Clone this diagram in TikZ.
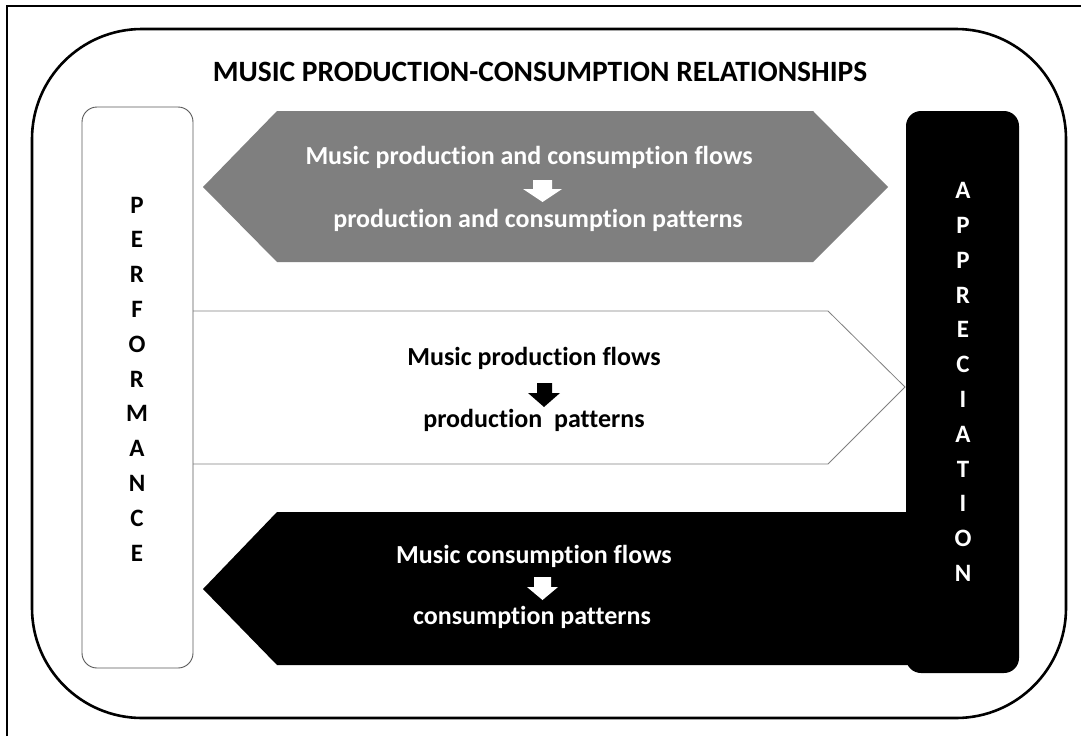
\documentclass[tikz,border=0pt]{standalone}
\usepackage{fontspec}
\setmainfont{Carlito}[Ligatures=NoCommon]
\definecolor{hexgray}{HTML}{7F7F7F}
\definecolor{linegray}{HTML}{808080}
\definecolor{boxgray}{HTML}{595959}
\begin{document}
\begin{tikzpicture}[x=1pt,y=-1pt,
  txt/.style={font=\bfseries\fontsize{26}{30}\selectfont, inner sep=0pt, anchor=center},
  titletxt/.style={font=\bfseries\fontsize{29.5}{34}\selectfont, inner sep=0pt, anchor=center},
  vtxt/.style={font=\bfseries\fontsize{25}{34.8}\selectfont, inner sep=0pt, align=center}]
\useasboundingbox (0,0) rectangle (1081,736);
\fill[white] (0,0) rectangle (1081,736);
% outer frame (only top and left visible)
\draw[line width=2pt] (7,736) -- (7,6) -- (1081,6);
% big rounded frame
\draw[line width=2.6pt, rounded corners=110pt] (32,29) rectangle (1066,718);
% title
\node[titletxt] (title) at (540,72) {MUSIC PRODUCTION-CONSUMPTION RELATIONSHIPS};
% middle white arrow shape
\draw[draw=linegray, line width=0.8pt, fill=white] (193,311) -- (828,311) -- (905,387) -- (828,464) -- (193,464);
% performance box
\draw[draw=boxgray, line width=0.9pt, fill=white, rounded corners=15pt] (82,107) rectangle (193,668);
\node[vtxt] (perf) at (137,379) {P\\E\\R\\F\\O\\R\\M\\A\\N\\C\\E};
% grey hexagon
\fill[hexgray] (203,187) -- (277,111) -- (813,111) -- (888,187) -- (813,262) -- (277,262) -- cycle;
\node[txt, text=white] (t1a) at (529,157) {Music production and consumption flows};
\fill[white] (533,180) -- (552,180) -- (552,189) -- (562,189) -- (542.5,202) -- (523,189) -- (533,189) -- cycle;
\node[txt, text=white] (t1b) at (538,220) {production and consumption patterns};
% middle texts
\node[txt] (t2a) at (534,358) {Music production flows};
\fill[black] (537,383) -- (552,383) -- (552,393) -- (560,393) -- (544,407) -- (528,393) -- (537,393) -- cycle;
\node[txt] (t2b) at (534,420) {production~~patterns};
% appreciation box
\fill[black, rounded corners=15pt] (906,111) rectangle (1019,673);
\node[vtxt, text=white] (appr) at (963,382) {A\\P\\P\\R\\E\\C\\I\\A\\T\\I\\O\\N};
% black bottom shape
\fill[black] (203,589) -- (277,512) -- (910,512) -- (910,665) -- (277,665) -- cycle;
\node[txt, text=white] (t3a) at (534,556) {Music consumption flows};
\fill[white] (534,577) -- (551,577) -- (551,587) -- (558,587) -- (542.5,600) -- (527,587) -- (534,587) -- cycle;
\node[txt, text=white] (t3b) at (532,617) {consumption patterns};
\end{tikzpicture}
\end{document}
